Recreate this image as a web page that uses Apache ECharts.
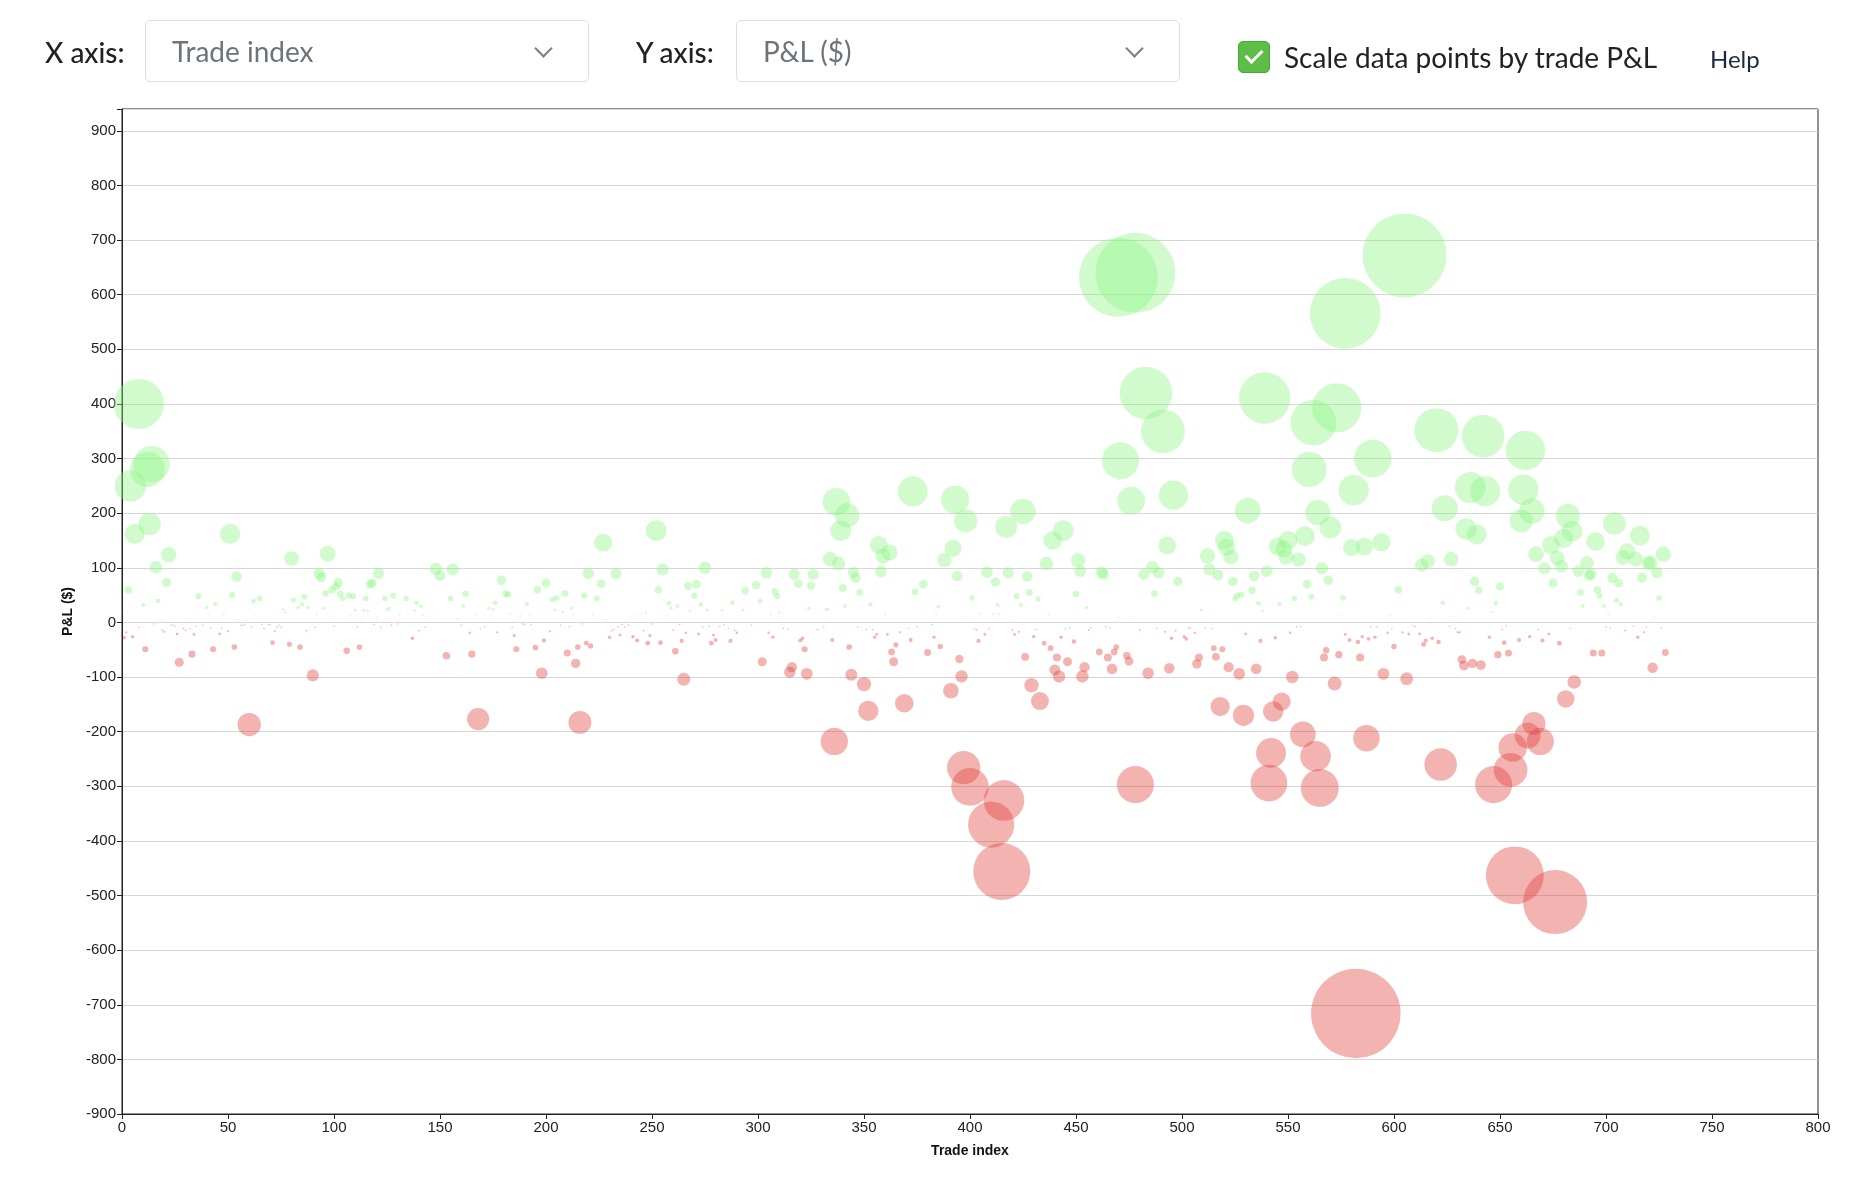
<!DOCTYPE html>
<html>
<head>
<meta charset="utf-8">
<title>Trade P&amp;L scatter</title>
<script src="https://cdn.jsdelivr.net/npm/echarts@6/dist/echarts.min.js"></script>
<style>
  html, body { margin: 0; padding: 0; background: #fff; }
  body { width: 1854px; height: 1200px; position: relative; overflow: hidden;
         font-family: 'Lato', 'Noto Sans', sans-serif; }
  .lbl { position: absolute; top: 32px; font-size: 28px; color: #222; font-weight: 500; line-height: 40px; }
  .sel { position: absolute; top: 20px; height: 62px; width: 444px; box-sizing: border-box;
         border: 1.5px solid #dcdfe3; border-radius: 5px; background: #fff; }
  .sel span { position: absolute; left: 26px; top: 10px; font-size: 28px; line-height: 40px; color: #6c737a; }
  .sel i { position: absolute; right: 38px; top: 21px; width: 11px; height: 11px;
           border-right: 2px solid #7a8087; border-bottom: 2px solid #7a8087; transform: rotate(45deg); }
  .chk { position: absolute; left: 1238px; top: 41px; width: 32px; height: 32px; box-sizing: border-box;
         background: #5cbd47; border: 1.5px solid #4aa63a; border-radius: 5px; }
  .chk i { position: absolute; left: 10px; top: 4px; width: 7px; height: 14px;
           border-right: 3px solid #fff; border-bottom: 3px solid #fff; transform: rotate(45deg); }
  #chart { position: absolute; left: 0; top: 0; width: 1854px; height: 1200px; }
</style>
</head>
<body>
<div id="chart"></div>
<div class="lbl" style="left:45px;">X axis:</div>
<div class="sel" style="left:145px;"><span>Trade index</span><i></i></div>
<div class="lbl" style="left:636px;">Y axis:</div>
<div class="sel" style="left:736px;"><span>P&amp;L ($)</span><i></i></div>
<div class="chk"><i></i></div>
<div class="lbl" style="left:1284px; top:37px; color:#222; font-weight:400;">Scale data points by trade P&amp;L</div>
<div class="lbl" style="left:1710px; top:39px; font-size:24px; color:#1b2a3a; font-weight:400;">Help</div>
<script>
// 盈利交易 [交易序号, 盈亏]
var winTrades = [
  [3,60],[4,250],[6,162],[8,400],[10,32],[12,280],[13,180],[14,290],[16,101],[17,39],[18,5],[21,73],[22,124],
  [31,7],[36,48],[40,27],[41,12],[44,34],[48,15],[51,162],[52,50],[54,84],[55,5],[59,3],[62,39],[63,12],[65,44],
  [76,23],[77,18],[80,117],[81,41],[83,27],[85,33],[86,47],[88,27],[92,15],[93,89],[94,83],[95,26],[96,53],
  [97,126],[98,7],[99,60],[101,66],[102,73],[103,52],[104,44],[107,49],[108,13],[109,48],[110,22],[113,7],
  [114,22],[115,44],[116,21],[117,70],[118,72],[120,10],[121,90],[124,44],[125,23],[126,26],[128,49],[131,15],
  [134,44],[138,22],[139,36],[141,30],[142,13],[145,8],[148,98],[149,12],[150,86],
  [155,44],[156,97],[158,6],[159,7],[161,30],[162,52],[167,15],[173,26],[175,24],[176,36],[179,77],[181,53],
  [182,51],[183,16],[187,10],[188,12],[191,33],[192,12],[196,60],[200,72],[203,42],[204,23],[205,45],[208,19],
  [209,53],[212,26],[213,15],[218,49],[220,90],[222,15],[224,44],[226,71],[227,146],[229,5],[233,89],[240,10],
  [242,12],[245,15],[247,17],[252,168],[253,60],[255,97],[257,12],[258,35],[259,26],[262,30],[267,67],[268,21],
  [270,49],[271,70],[273,33],[275,100],[276,22],[283,22],[288,36],[293,23],[294,58],[299,68],[301,39],
  [304,91],[306,15],[308,56],[309,48],[310,18],[311,11],[317,88],[319,71],[324,26],[325,67],[326,88],[332,24],
  [333,24],[334,116],[337,221],[338,108],[339,168],[340,63],[341,30],[342,196],[345,91],[346,82],[348,55],
  [353,33],[357,142],[358,93],[359,122],[360,15],[362,128],[373,240],[374,56],[378,70],[379,12],[384,15],
  [385,29],[388,114],[392,136],[393,225],[394,85],[398,186],[399,11],[401,45],[405,16],[408,92],[411,15],
  [412,74],[413,32],[414,15],[417,175],[418,91],[419,10],[422,48],[424,32],[425,203],[427,84],[428,55],[432,43],
  [436,108],[437,15],[439,150],[444,168],[450,52],[451,114],[452,94],
  [455,27],[462,92],[463,88],[470,632],[470,9],[471,296],[476,223],[477,11],[478,640],[482,88],[483,420],
  [486,101],[487,53],[489,91],[491,350],[493,141],[496,233],[498,75],[509,23],[512,122],[513,97],[517,87],
  [520,150],[521,138],[523,120],[524,75],[525,44],[526,49],[528,51],[531,205],[533,59],[534,85],[536,35],
  [538,21],[539,411],[540,94],[545,139],[546,34],[548,134],[549,120],[550,150],[553,44],[555,115],[558,158],
  [559,70],[560,280],[561,47],[562,366],[564,201],[566,99],[569,77],[570,174],[573,393],[575,12],[576,45],
  [577,566],[580,137],[581,242],[586,139],[590,300],[594,147],[598,14],[602,60],[605,672],
  [613,105],[616,112],[617,7],[620,352],[623,36],[624,209],[627,116],[628,11],[634,171],[635,26],[636,247],
  [638,75],[639,161],[640,59],[642,341],[643,240],[646,19],[648,35],[650,66],[660,186],[661,243],[662,315],
  [665,204],[667,125],[671,99],[674,142],[675,72],[677,118],[679,103],[680,154],[682,195],[684,167],[687,94],
  [688,55],[689,30],[691,109],[692,86],[693,89],[695,148],[696,60],[697,49],[699,30],[701,15],[703,81],
  [704,181],[705,40],[706,72],[707,33],[708,119],[710,130],[714,116],[716,159],[717,82],[720,109],[721,109],
  [723,10],[724,91],[725,45],[727,125]
];
// 亏损交易 [交易序号, 盈亏]
var lossTrades = [
  [1,-28],[2,-18],[5,-26],[8,-9],[11,-49],[15,-3],[19,-14],[20,-17],[23,-5],[24,-4],[25,-7],[26,-21],[27,-73],
  [29,-11],[30,-14],[32,-11],[33,-58],[34,-22],[35,-7],[38,-5],[42,-10],[43,-49],[46,-21],[47,-11],[50,-16],
  [53,-45],[56,-5],[57,-5],[58,-4],[60,-187],[61,-8],[66,-4],[67,-11],[69,-4],[70,-4],[71,-37],[72,-16],
  [73,-9],[74,-5],[75,-9],[79,-40],[84,-45],[87,-15],[90,-97],[91,-9],[100,-7],[106,-52],[111,-8],[112,-45],
  [119,-4],[122,-9],[127,-5],[130,-3],[137,-29],[140,-15],[143,-9],
  [153,-61],[160,-5],[164,-19],[165,-58],[168,-177],[169,-11],[171,-8],[177,-18],[184,-9],[185,-24],[186,-49],
  [189,-3],[190,-4],[193,-4],[195,-46],[198,-93],[199,-33],[202,-16],[207,-5],[210,-56],[211,-8],[214,-75],
  [215,-45],[216,-183],[217,-3],[219,-38],[221,-43],[230,-27],[231,-15],[232,-13],[234,-8],[235,-23],[236,-4],
  [237,-9],[239,-5],[241,-26],[243,-33],[246,-15],[248,-38],[249,-24],[250,-3],[254,-37],[260,-14],[261,-53],
  [263,-4],[264,-34],[265,-104],[266,-19],[272,-21],[274,-9],[277,-7],[278,-38],[279,-23],[280,-32],[282,-7],
  [284,-4],[286,-11],[287,-34],[289,-15],[290,-19],[297,-5],[302,-72],
  [305,-19],[307,-27],[312,-11],[314,-12],[315,-91],[316,-82],[320,-33],[321,-29],[322,-49],[323,-94],[328,-13],
  [331,-9],[335,-32],[336,-218],[343,-45],[344,-96],[347,-9],[350,-113],[351,-13],[352,-162],[354,-13],
  [355,-27],[356,-22],[361,-22],[363,-54],[364,-72],[365,-41],[367,-18],[369,-148],[371,-11],[372,-32],
  [375,-8],[380,-55],[382,-4],[383,-27],[386,-44],[391,-125],[395,-67],[396,-99],[397,-266],[400,-301],
  [402,-11],[403,-14],[404,-34],[407,-22],[409,-12],[410,-370],[415,-456],[416,-326],[420,-14],[421,-22],
  [423,-17],[426,-63],[429,-115],[430,-26],[431,-13],[433,-144],[435,-38],[438,-47],[440,-87],[441,-64],
  [442,-99],[443,-27],[445,-12],[446,-72],[447,-10],[449,-35],[453,-99],[454,-82],
  [456,-14],[457,-10],[461,-54],[464,-8],[465,-64],[466,-10],[467,-85],[468,-54],[469,-45],[474,-61],[475,-71],
  [478,-297],[480,-14],[484,-93],[488,-11],[492,-17],[494,-84],[495,-29],[497,-15],[501,-26],[502,-30],
  [503,-10],[504,-10],[506,-19],[507,-76],[508,-64],[511,-10],[514,-11],[515,-47],[516,-63],[518,-154],
  [519,-49],[522,-82],[527,-94],[529,-170],[530,-21],[535,-85],[537,-34],[541,-294],[542,-239],[543,-163],
  [544,-28],[547,-145],[551,-19],[552,-100],[554,-8],[556,-8],[557,-205],[563,-245],[565,-303],[567,-64],
  [568,-51],[572,-112],[574,-59],[577,-22],[579,-32],[582,-716],[583,-36],[584,-64],[585,-26],[587,-212],
  [588,-30],[589,-8],[591,-27],[592,-8],[595,-94],[597,-19],[599,-12],[600,-44],
  [604,-18],[606,-103],[607,-21],[609,-6],[610,-8],[612,-21],[614,-40],[615,-33],[618,-29],[621,-36],
  [622,-260],[626,-7],[629,-11],[630,-18],[631,-18],[632,-68],[633,-79],[637,-75],[641,-78],[645,-27],
  [647,-297],[649,-59],[651,-13],[652,-37],[653,-6],[654,-56],[655,-270],[656,-229],[657,-463],[659,-32],
  [663,-207],[664,-26],[666,-185],[668,-13],[669,-218],[670,-33],[673,-21],[676,-512],[678,-38],[681,-140],
  [683,-11],[685,-109],[694,-56],[698,-56],[700,-9],[702,-10],[709,-15],[713,-7],[715,-27],[718,-18],
  [719,-9],[722,-83],[726,-10],[728,-55]
];

var chart = echarts.init(document.getElementById('chart'));

function bubbleSize(val) {
    return Math.max(1.5, Math.abs(val[1]) * 0.125);  //按盈亏缩放
}

var option = {
    animation: false,
    grid: { left: 122, top: 109, width: 1696, height: 1005, show: true, borderColor: '#222', borderWidth: 1 },
    xAxis: {
        type: 'value', min: 0, max: 800, interval: 50,
        name: 'Trade index', nameLocation: 'middle', nameGap: 30,
        nameTextStyle: { fontFamily: 'Liberation Sans', fontWeight: 'bold', fontSize: 14, color: '#111' },
        axisLine: { show: true, onZero: false, lineStyle: { color: '#222' } },
        axisTick: { show: true, length: 5, lineStyle: { color: '#222' } },
        axisLabel: { fontFamily: 'Liberation Sans', fontSize: 15, color: '#222', margin: 6 },
        splitLine: { show: false }
    },
    yAxis: {
        type: 'value', min: -900, max: 940, interval: 100,
        name: 'P&L ($)', nameLocation: 'middle', nameGap: 46,
        nameTextStyle: { fontFamily: 'Liberation Sans', fontWeight: 'bold', fontSize: 14, color: '#111' },
        axisLine: { show: true, onZero: false, lineStyle: { color: '#222' } },
        axisTick: { show: true, length: 5, lineStyle: { color: '#222' } },
        axisLabel: {
            fontFamily: 'Liberation Sans', fontSize: 15, color: '#222', margin: 6,
            formatter: function (v) { return v % 100 === 0 ? String(v) : ''; }
        },
        splitLine: { show: true, lineStyle: { color: '#d6d6d6', width: 1 } }
    },
    series: [
        {
            name: 'win', type: 'scatter', data: winTrades, symbolSize: bubbleSize,
            itemStyle: { color: 'rgba(140,245,130,0.5)' }
        },
        {
            name: 'loss', type: 'scatter', data: lossTrades, symbolSize: bubbleSize,
            itemStyle: { color: 'rgba(225,65,60,0.5)' }
        }
    ]
};
chart.setOption(option);
</script>
</body>
</html>
